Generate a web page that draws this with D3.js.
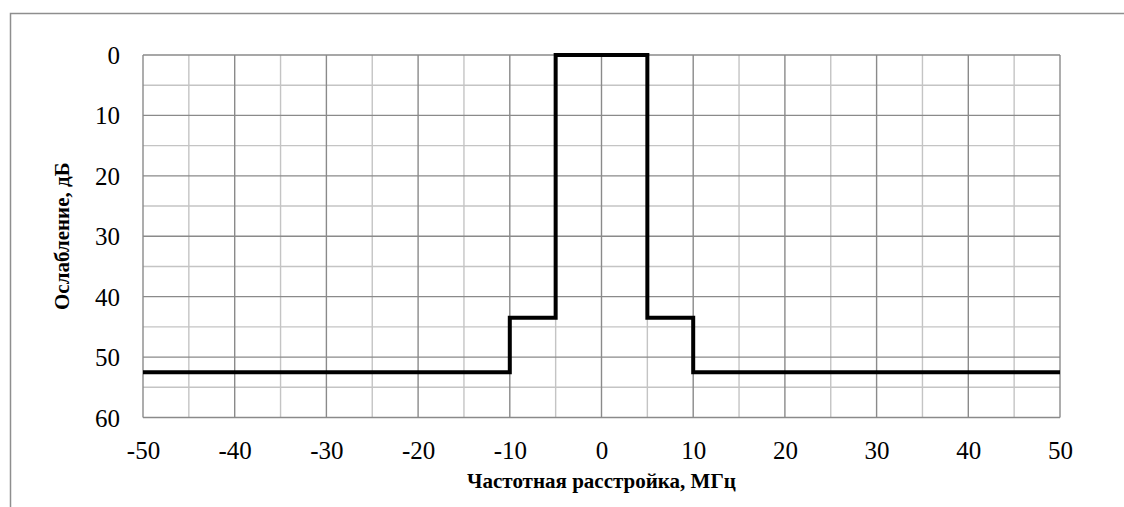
<!DOCTYPE html>
<html>
<head>
<meta charset="utf-8">
<script src="https://cdn.jsdelivr.net/npm/d3@7"></script>
<style>
  body { margin: 0; background: #fff; }
  svg { display: block; font-family: "Liberation Serif", "Times New Roman", serif; }
</style>
</head>
<body>
<div id="chart"></div>
<script>
// Step mask: frequency offset (MHz) -> attenuation (dB)
const freqOffsets = [-50, -10, -5, 5, 10, 50];
const attenuation = [52.5, 43.5, 0, 43.5, 52.5, 52.5];

const xTicks = [-50, -40, -30, -20, -10, 0, 10, 20, 30, 40, 50];
const yTicks = [0, 10, 20, 30, 40, 50, 60];
const xMinor = [-45, -35, -25, -15, -5, 5, 15, 25, 35, 45];
const yMinor = [5, 15, 25, 35, 45, 55];

const xTitle = "Частотная расстройка, МГц";
const yTitle = "Ослабление, дБ";

const W = 1124, H = 507;
const plot = { left: 143, right: 1060, top: 55, bottom: 417.5 };
const fontSerif = "Liberation Serif, Times New Roman, serif";

const svg = d3.select("#chart").append("svg")
  .attr("width", W)
  .attr("height", H);

// chart frame (cropped at right and bottom)
svg.append("rect")
  .attr("x", 10.5).attr("y", 13.5)
  .attr("width", 1300).attr("height", 700)
  .attr("fill", "none")
  .attr("stroke", "#8e8e8e")
  .attr("stroke-width", 1.5);

const x = d3.scaleLinear().domain([-50, 50]).range([plot.left, plot.right]);
const y = d3.scaleLinear().domain([0, 60]).range([plot.top, plot.bottom]);

const grid = svg.append("g");

// minor grid
grid.selectAll(".vminor").data(xMinor).join("line")
  .attr("x1", d => x(d)).attr("x2", d => x(d))
  .attr("y1", plot.top).attr("y2", plot.bottom)
  .attr("stroke", "#c4c4c4").attr("stroke-width", 1.4);
grid.selectAll(".hminor").data(yMinor).join("line")
  .attr("y1", d => y(d)).attr("y2", d => y(d))
  .attr("x1", plot.left).attr("x2", plot.right)
  .attr("stroke", "#c4c4c4").attr("stroke-width", 1.4);

// major grid
grid.selectAll(".vmajor").data(xTicks).join("line")
  .attr("x1", d => x(d)).attr("x2", d => x(d))
  .attr("y1", plot.top).attr("y2", plot.bottom)
  .attr("stroke", "#8a8a8a").attr("stroke-width", 1.4);
grid.selectAll(".hmajor").data(yTicks).join("line")
  .attr("y1", d => y(d)).attr("y2", d => y(d))
  .attr("x1", plot.left).attr("x2", plot.right)
  .attr("stroke", "#8a8a8a").attr("stroke-width", 1.4);

// tick labels through d3 axes (plain hyphen for negatives)
const xAxis = svg.append("g")
  .attr("transform", `translate(0, ${plot.bottom})`)
  .call(d3.axisBottom(x).tickValues(xTicks).tickFormat(d => String(d)).tickSize(0).tickPadding(0));
xAxis.attr("font-family", fontSerif).attr("font-size", 25);
xAxis.select(".domain").remove();
xAxis.selectAll("text")
  .attr("y", 41)
  .attr("dy", 0)
  .attr("fill", "#000");

const yAxis = svg.append("g")
  .attr("transform", `translate(${plot.left}, 0)`)
  .call(d3.axisLeft(y).tickValues(yTicks).tickFormat(d => String(d)).tickSize(0).tickPadding(0));
yAxis.attr("font-family", fontSerif).attr("font-size", 25);
yAxis.select(".domain").remove();
yAxis.selectAll("text")
  .attr("x", -23)
  .attr("dy", "0.34em")
  .attr("fill", "#000");

// the mask line
const line = d3.line()
  .x(d => x(d[0]))
  .y(d => y(d[1]))
  .curve(d3.curveStepAfter);

svg.append("path")
  .datum(freqOffsets.map((f, i) => [f, attenuation[i]]))
  .attr("d", line)
  .attr("fill", "none")
  .attr("stroke", "#000")
  .attr("stroke-width", 4)
  .attr("stroke-linejoin", "miter");

// axis titles
svg.append("text")
  .attr("x", (plot.left + plot.right) / 2)
  .attr("y", 488)
  .attr("text-anchor", "middle")
  .attr("font-family", fontSerif)
  .attr("font-weight", "bold")
  .attr("font-size", 21)
  .text(xTitle);

svg.append("text")
  .attr("transform", `translate(69, ${(plot.top + plot.bottom) / 2}) rotate(-90)`)
  .attr("text-anchor", "middle")
  .attr("font-family", fontSerif)
  .attr("font-weight", "bold")
  .attr("font-size", 21)
  .text(yTitle);
</script>
</body>
</html>
